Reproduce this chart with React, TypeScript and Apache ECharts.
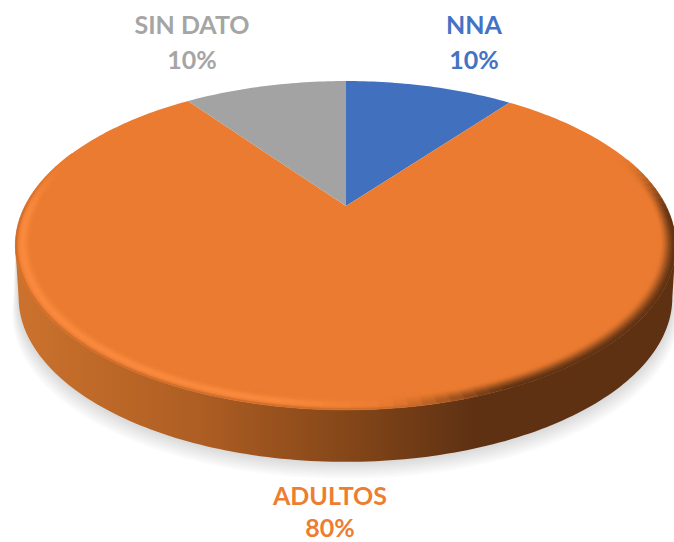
import React, { useEffect, useRef } from "react";
import * as echarts from "echarts";

const categories = ["NNA", "ADULTOS", "SIN DATO"];
const values = [10.4, 79.6, 10];
const sliceColors = ["#4170bf", "#ea7b30", "#a3a3a3"];
const labelColors = ["#4472c4", "#ed7d31", "#a5a5a5"];

// Layout of the printed labels (name line, percent line), independent of the data
const labelLayout = [
  { nameX: 474, nameY: 24, pctX: 474, pctY: 59 },
  { nameX: 330, nameY: 495, pctX: 330, pctY: 527 },
  { nameX: 192, nameY: 24, pctX: 192, pctY: 59 },
];

const DEG = Math.PI / 180;
const total = values.reduce((a, b) => a + b, 0);

function project(theta: number, r = 1) {
  const u = r * Math.sin(theta);
  const v = -r * Math.cos(theta);
  const den = 1 - 0.24 * v;
  return [346 + (u >= 0 ? 320 : 321) * (u / den), (206 + 105.5 * v) / den];
}
function projectBottom(theta: number) {
  const [x, y] = project(theta);
  return [344 + (x - 344) * 0.99, y + 52];
}
const smooth = (a: number, b: number, x: number) => {
  const t = Math.min(1, Math.max(0, (x - a) / (b - a)));
  return t * t * (3 - 2 * t);
};
const mixArr = (c1: number[], c2: number[], t: number) =>
  c1.map((c, i) => c + (c2[i] - c) * t);
const css = (c: number[]) => `rgb(${c.map(Math.round).join(",")})`;

const BASE = [234, 123, 48];
const LIGHT = [250, 138, 62];
const DARK = [94, 49, 19];

function bevelColor(theta: number, r: number) {
  const [x] = project(theta);
  const v = -Math.cos(theta);
  const fade = smooth(-0.35, 0.1, v);
  const lightAmount = 1 - smooth(250, 420, x);
  const darkAmount = smooth(370, 520, x);
  const lightProfile = Math.exp(-Math.pow((r - 0.98) / 0.014, 2));
  const darkProfile = smooth(0.955, 1.0, r);
  let c = mixArr(BASE, LIGHT, lightAmount * lightProfile * fade);
  c = mixArr(c, DARK, darkAmount * darkProfile * fade);
  // outermost edge rolls into the wall
  c = mixArr(c, [190, 100, 38], smooth(0.99, 1.0, r) * fade * (1 - darkAmount) * 0.7);
  return css(c);
}

function renderSlice(params: any, api: any) {
  const i = params.dataIndex;
  const value = api.value(0);
  const before = values.slice(0, i).reduce((a, b) => a + b, 0);
  const a0 = (before / total) * 360 * DEG;
  const a1 = ((before + value) / total) * 360 * DEG;
  const children: any[] = [];

  // Front wall, for the part of this slice's arc that faces the viewer
  const wallStart = Math.max(a0, 103.9 * DEG);
  const wallEnd = Math.min(a1, 256.1 * DEG);
  if (wallEnd > wallStart) {
    const top: number[][] = [];
    const bottom: number[][] = [];
    for (let t = wallStart; t <= wallEnd + 1e-6; t += DEG) {
      top.push(project(t));
      bottom.push(projectBottom(t));
    }
    // Soft floor shadow, built from stacked translucent copies of the wall's lower edge
    const steps = 9;
    for (let k = steps; k >= 1; k--) {
      const grow = 1 + k * 0.0022;
      const drop = k * 1.9;
      const shadowEdge = bottom.map(([x, y]) => [344 + (x - 344) * grow, y + drop]);
      children.push({
        type: "polygon",
        silent: true,
        shape: { points: top.concat(shadowEdge.slice().reverse()) },
        style: { fill: "rgba(0,0,0,0.016)" },
      });
    }
    children.push({
      type: "polygon",
      silent: true,
      shape: { points: top.concat(bottom.slice().reverse()) },
      style: {
        fill: new echarts.graphic.LinearGradient(
          14, 0, 672, 0,
          [
            { offset: 0, color: "#cc722d" },
            { offset: 0.28, color: "#ae5e23" },
            { offset: 0.5, color: "#864719" },
            { offset: 0.7, color: "#5e3113" },
            { offset: 1, color: "#5e3113" },
          ],
          true
        ),
      },
    });
  }

  // Top face
  const pts: number[][] = [[346, 206]];
  for (let t = a0; t < a1; t += DEG) pts.push(project(t));
  pts.push(project(a1));
  children.push({
    type: "polygon",
    silent: true,
    shape: { points: pts },
    style: { fill: sliceColors[i] },
  });

  // Bevel along the front rim
  if (wallEnd > wallStart) {
    const step = 2 * DEG;
    const dr = 0.005;
    for (let t = a0; t < a1; t += step) {
      if (-Math.cos(t) < -0.35) continue;
      for (let r = 0.95; r < 0.9999; r += dr) {
        const color = bevelColor(t + step / 2, r + dr / 2);
        children.push({
          type: "polygon",
          silent: true,
          shape: {
            points: [
              project(t, r),
              project(Math.min(t + step, a1), r),
              project(Math.min(t + step, a1), r + dr),
              project(t, r + dr),
            ],
          },
          style: { fill: color, stroke: color, lineWidth: 0.7 },
        });
      }
    }
  }

  // Labels
  const lay = labelLayout[i];
  const font = '700 25px Lato, "Open Sans", sans-serif';
  children.push({
    type: "text",
    silent: true,
    style: {
      text: categories[i],
      x: lay.nameX,
      y: lay.nameY,
      fill: labelColors[i],
      font,
      align: "center",
      verticalAlign: "middle",
    },
  });
  children.push({
    type: "text",
    silent: true,
    style: {
      text: `${Math.round((value / total) * 100)}%`,
      x: lay.pctX,
      y: lay.pctY,
      fill: labelColors[i],
      font,
      align: "center",
      verticalAlign: "middle",
    },
  });
  return { type: "group", children };
}

export default function App() {
  const ref = useRef<HTMLDivElement>(null);
  useEffect(() => {
    const chart = echarts.init(ref.current!, undefined, { renderer: "svg" });
    chart.setOption({
      animation: false,
      backgroundColor: "#ffffff",
      series: [
        {
          type: "custom",
          coordinateSystem: "none",
          renderItem: renderSlice,
          data: categories.map((name, i) => ({ name, value: [values[i]] })),
        },
      ],
    });
    return () => chart.dispose();
  }, []);
  return (
    <div
      ref={ref}
      style={{ position: "absolute", left: 0, top: 0, width: 674, height: 542 }}
    />
  );
}
